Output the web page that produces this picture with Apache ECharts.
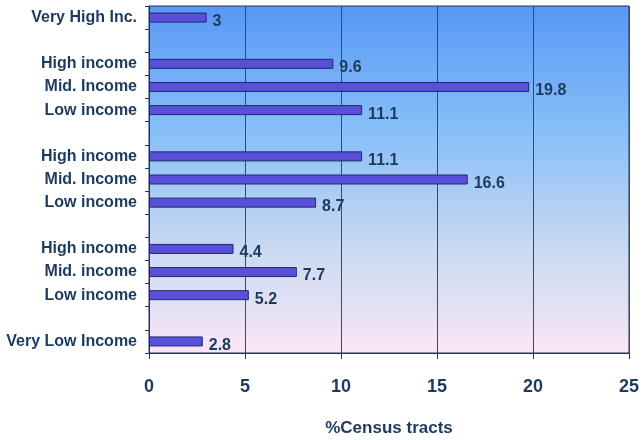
<!DOCTYPE html>
<html>
<head>
<meta charset="utf-8">
<script src="https://cdn.jsdelivr.net/npm/echarts@6/dist/echarts.min.js"></script>
<style>
  html, body { margin: 0; padding: 0; background: #fff; }
  #chart { width: 642px; height: 440px; }
</style>
</head>
<body>
<div id="chart"></div>
<script>
// rows top to bottom, '' rows are the gaps between groups
const categories = [
  'Very High Inc.', '',
  'High income', 'Mid. Income', 'Low income', '',
  'High income', 'Mid. Income', 'Low income', '',
  'High income', 'Mid. income', 'Low income', '',
  'Very Low Income'
];
const values = [
  3, null,
  9.6, 19.8, 11.1, null,
  11.1, 16.6, 8.7, null,
  4.4, 7.7, 5.2, null,
  2.8
];
const xTicks = [0, 5, 10, 15, 20, 25];

const textColor = '#1b3a5e';
const font = 'Liberation Sans, Arial, sans-serif';

const chart = echarts.init(document.getElementById('chart'));

chart.setOption({
  animation: false,
  grid: {
    left: 149,
    right: 13,
    top: 6,
    bottom: 87,
    containLabel: false,
    outerBoundsMode: 'none',
    show: true,
    borderColor: '#1e3560',
    borderWidth: 1,
    backgroundColor: new echarts.graphic.LinearGradient(0, 0, 0, 1, [
      { offset: 0, color: '#5898f5' },
      { offset: 0.35, color: '#86bef8' },
      { offset: 0.7, color: '#c9daf2' },
      { offset: 1, color: '#fae6f6' }
    ])
  },
  xAxis: {
    type: 'value',
    min: xTicks[0],
    max: xTicks[xTicks.length - 1],
    interval: 5,
    name: '%Census tracts',
    nameLocation: 'middle',
    nameGap: 67,
    nameTextStyle: { color: textColor, fontWeight: 'bold', fontSize: 17, fontFamily: font },
    axisLine: { show: true, lineStyle: { color: '#1e3560', width: 1 } },
    axisTick: { show: true, length: 6, lineStyle: { color: '#1e3560' } },
    axisLabel: { color: textColor, fontWeight: 'bold', fontSize: 18, fontFamily: font, margin: 25 },
    splitLine: { show: true, lineStyle: { color: '#2c4c7c', width: 1 } }
  },
  yAxis: {
    type: 'category',
    inverse: true,
    data: categories,
    axisLine: { show: true, lineStyle: { color: '#1e3560', width: 1 } },
    axisTick: { show: true, length: 4, lineStyle: { color: '#1e3560' } },
    axisLabel: { color: textColor, fontWeight: 'bold', fontSize: 16, fontFamily: font, margin: 12, interval: 0 },
    splitLine: { show: false }
  },
  series: [
    {
      type: 'bar',
      data: values,
      barWidth: 10,
      itemStyle: { color: '#5a4fd9', borderColor: '#1e2a6e', borderWidth: 1 },
      label: {
        show: true,
        position: 'right',
        distance: 6,
        offset: [0, 4],
        color: textColor,
        fontWeight: 'bold',
        fontSize: 16,
        fontFamily: font
      }
    }
  ]
});
</script>
</body>
</html>
